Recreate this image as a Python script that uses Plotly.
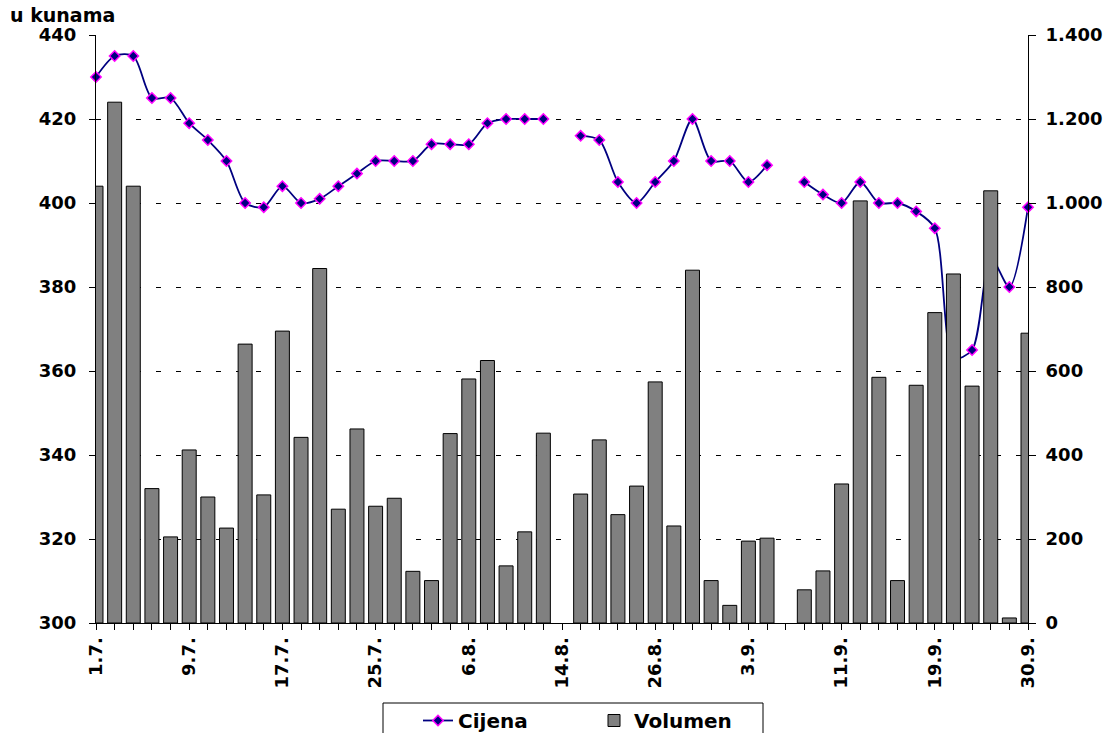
import plotly.graph_objects as go

dates = ["1.7.", "2.7.", "3.7.", "4.7.", "8.7.", "9.7.", "10.7.", "11.7.", "15.7.", "16.7.",
         "17.7.", "18.7.", "19.7.", "22.7.", "23.7.", "25.7.", "26.7.", "29.7.", "31.7.", "2.8.",
         "6.8.", "7.8.", "8.8.", "9.8.", "13.8.", "14.8.", "19.8.", "20.8.", "21.8.", "23.8.",
         "26.8.", "27.8.", "28.8.", "29.8.", "2.9.", "3.9.", "4.9.", "5.9.", "6.9.", "9.9.",
         "11.9.", "12.9.", "13.9.", "16.9.", "17.9.", "19.9.", "20.9.", "24.9.", "26.9.", "27.9.",
         "30.9."]

cijena = [430, 435, 435, 425, 425, 419, 415, 410, 400, 399,
          404, 400, 401, 404, 407, 410, 410, 410, 414, 414,
          414, 419, 420, 420, 420, None, 416, 415, 405, 400,
          405, 410, 420, 410, 410, 405, 409, None, 405, 402,
          400, 405, 400, 400, 398, 394, 363, 365, 387, 380,
          399]

volumen = [1040, 1240, 1040, 320, 205, 412, 300, 226, 664, 305,
           695, 442, 844, 271, 462, 278, 297, 123, 101, 451,
           581, 625, 136, 217, 452, None, 307, 436, 258, 326,
           574, 231, 840, 101, 42, 195, 202, None, 79, 124,
           331, 1005, 585, 101, 566, 739, 831, 564, 1029, 12,
           690]

shown_labels = ["1.7.", "9.7.", "17.7.", "25.7.", "6.8.", "14.8.", "26.8.", "3.9.", "11.9.", "19.9.", "30.9."]

left_ticks = [300, 320, 340, 360, 380, 400, 420, 440]
right_ticks = [0, 200, 400, 600, 800, 1000, 1200, 1400]
right_labels = ["0", "200", "400", "600", "800", "1.000", "1.200", "1.400"]

FONT = "DejaVu Sans, sans-serif"
BOLD18 = dict(family=FONT, size=18, color="black", weight="bold")

fig = go.Figure()

fig.add_trace(go.Scatter(
    x=dates, y=cijena, name="Cijena", mode="lines+markers",
    line=dict(color="#000080", width=1.8, shape="spline", smoothing=0.8),
    marker=dict(symbol="diamond", size=8, color="#000080",
                line=dict(color="#FF00FF", width=1.5)),
    connectgaps=False, cliponaxis=False, yaxis="y"))

fig.add_trace(go.Bar(
    x=dates, y=volumen, name="Volumen",
    marker=dict(color="#808080", line=dict(color="#000000", width=1)),
    yaxis="y2"))

# plot area: x 96..1028, y 35..623 (page pixels)
fig.update_layout(
    width=1108, height=733,
    paper_bgcolor="white", plot_bgcolor="white",
    margin=dict(l=96, r=80, t=35, b=110, autoexpand=False),
    font=dict(family=FONT, size=18, color="black"),
    bargap=0.25,
    showlegend=True,
    legend=dict(orientation="h", x=(418 - 96) / 932, xanchor="left",
                y=-(701 - 623) / 588, yanchor="top",
                borderwidth=0, bgcolor="rgba(0,0,0,0)",
                font=dict(family=FONT, size=20, color="black", weight="bold"),
                entrywidth=131, traceorder="normal"),
    xaxis=dict(type="category", range=[0, 50], categoryorder="array", categoryarray=dates,
               tickmode="array", tickvals=dates,
               ticktext=[d if d in shown_labels else "" for d in dates],
               tickangle=-90, ticks="outside", ticklen=6, tickcolor="black",
               showline=True, linecolor="black", linewidth=1, showgrid=False,
               tickfont=BOLD18, zeroline=False),
    yaxis=dict(range=[300, 440], tickvals=left_ticks, ticks="outside", ticklen=6,
               tickcolor="black", showline=True, linecolor="black", linewidth=1,
               showgrid=True, gridcolor="black", gridwidth=1, griddash="5px,15px",
               tickfont=BOLD18, zeroline=False, ticklabelstandoff=9),
    yaxis2=dict(range=[0, 1400], tickvals=right_ticks, ticktext=right_labels,
                overlaying="y", side="right", ticks="outside", ticklen=7,
                tickcolor="black", showline=True, linecolor="black", linewidth=1,
                showgrid=False, zeroline=False, tickfont=BOLD18, ticklabelstandoff=6),
    annotations=[dict(text="<b>u kunama</b>", xref="paper", yref="paper",
                      x=(8 - 96) / 932, y=1 + (35 - 2) / 588, xanchor="left", yanchor="top",
                      showarrow=False, font=dict(family=FONT, size=19))],
    shapes=[dict(type="rect", xref="paper", yref="paper",
                 x0=(383 - 96) / 932, x1=(763 - 96) / 932,
                 y0=-(703 - 623) / 588, y1=-(745 - 623) / 588,
                 line=dict(color="black", width=1), fillcolor="rgba(0,0,0,0)",
                 layer="above")],
)

fig.write_html("out.html", config={"displayModeBar": False},
               post_script="document.body.style.margin='0';")
